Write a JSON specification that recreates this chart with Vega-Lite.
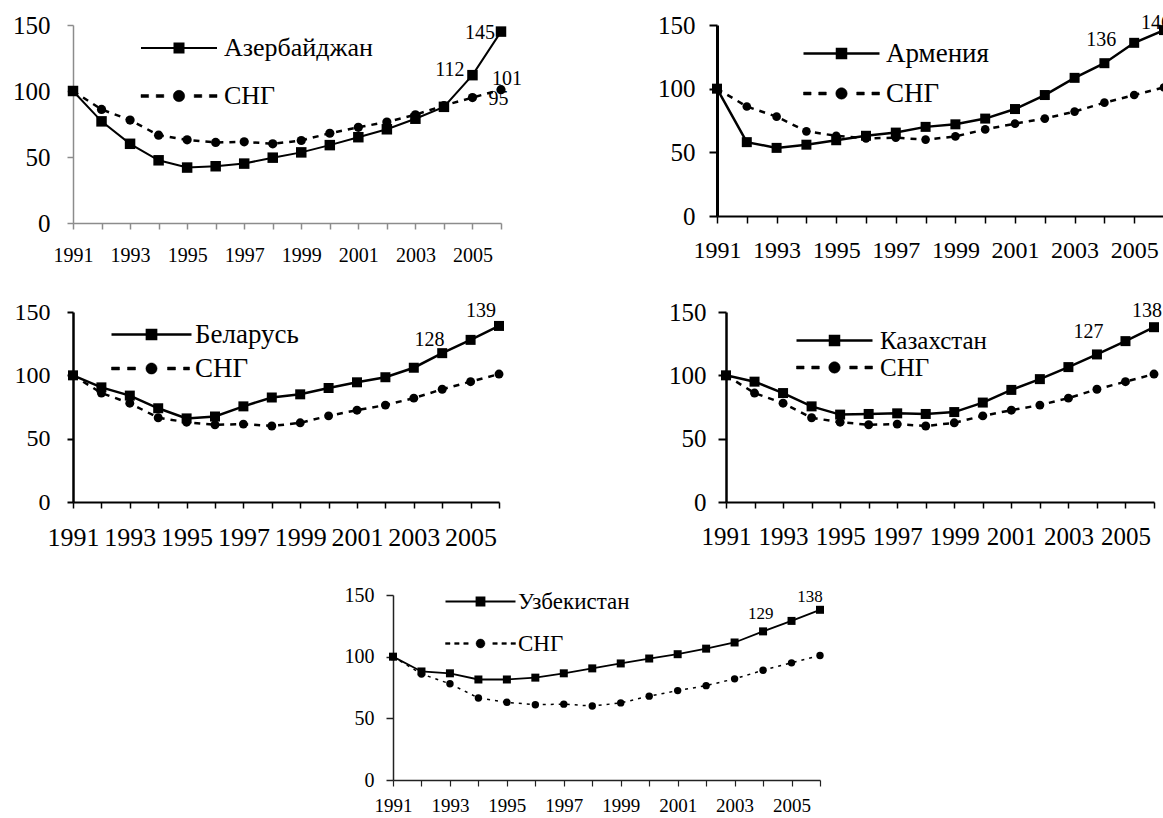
{
"$schema": "https://vega.github.io/schema/vega-lite/v6.json",
"background": "white",
"padding": {"left": 12, "top": 13, "right": 0, "bottom": 0},
"config": {"view": {"stroke": null}, "font": "Liberation Serif", "axis": {"labelFont": "Liberation Serif"}, "legend": {"labelFont": "Liberation Serif"}},
"datasets": {"d": [
{"series":"СНГ","year":1991,"value":100},{"series":"СНГ","year":1992,"value":86},{"series":"СНГ","year":1993,"value":78},{"series":"СНГ","year":1994,"value":66.5},{"series":"СНГ","year":1995,"value":63},{"series":"СНГ","year":1996,"value":61},{"series":"СНГ","year":1997,"value":61.5},{"series":"СНГ","year":1998,"value":60},{"series":"СНГ","year":1999,"value":62.5},{"series":"СНГ","year":2000,"value":68},{"series":"СНГ","year":2001,"value":72.5},{"series":"СНГ","year":2002,"value":76.5},{"series":"СНГ","year":2003,"value":82},{"series":"СНГ","year":2004,"value":89},{"series":"СНГ","year":2005,"value":95},{"series":"СНГ","year":2006,"value":101},
{"series":"Азербайджан","year":1991,"value":100},{"series":"Азербайджан","year":1992,"value":77},{"series":"Азербайджан","year":1993,"value":60},{"series":"Азербайджан","year":1994,"value":47.5},{"series":"Азербайджан","year":1995,"value":42},{"series":"Азербайджан","year":1996,"value":43},{"series":"Азербайджан","year":1997,"value":45},{"series":"Азербайджан","year":1998,"value":49.5},{"series":"Азербайджан","year":1999,"value":53.5},{"series":"Азербайджан","year":2000,"value":59},{"series":"Азербайджан","year":2001,"value":65},{"series":"Азербайджан","year":2002,"value":71},{"series":"Азербайджан","year":2003,"value":79},{"series":"Азербайджан","year":2004,"value":88},{"series":"Азербайджан","year":2005,"value":112},{"series":"Азербайджан","year":2006,"value":145},
{"series":"Армения","year":1991,"value":100},{"series":"Армения","year":1992,"value":58},{"series":"Армения","year":1993,"value":53.5},{"series":"Армения","year":1994,"value":56},{"series":"Армения","year":1995,"value":59.5},{"series":"Армения","year":1996,"value":63},{"series":"Армения","year":1997,"value":65.5},{"series":"Армения","year":1998,"value":70},{"series":"Армения","year":1999,"value":72},{"series":"Армения","year":2000,"value":76.5},{"series":"Армения","year":2001,"value":84},{"series":"Армения","year":2002,"value":95},{"series":"Армения","year":2003,"value":108.5},{"series":"Армения","year":2004,"value":120},{"series":"Армения","year":2005,"value":136},{"series":"Армения","year":2006,"value":146},
{"series":"Беларусь","year":1991,"value":100},{"series":"Беларусь","year":1992,"value":90.5},{"series":"Беларусь","year":1993,"value":84},{"series":"Беларусь","year":1994,"value":74},{"series":"Беларусь","year":1995,"value":66},{"series":"Беларусь","year":1996,"value":67.5},{"series":"Беларусь","year":1997,"value":75.5},{"series":"Беларусь","year":1998,"value":82.5},{"series":"Беларусь","year":1999,"value":85},{"series":"Беларусь","year":2000,"value":90},{"series":"Беларусь","year":2001,"value":94.5},{"series":"Беларусь","year":2002,"value":98.5},{"series":"Беларусь","year":2003,"value":106},{"series":"Беларусь","year":2004,"value":117.5},{"series":"Беларусь","year":2005,"value":128},{"series":"Беларусь","year":2006,"value":139},
{"series":"Казахстан","year":1991,"value":100},{"series":"Казахстан","year":1992,"value":95},{"series":"Казахстан","year":1993,"value":86},{"series":"Казахстан","year":1994,"value":75.5},{"series":"Казахстан","year":1995,"value":69},{"series":"Казахстан","year":1996,"value":69.5},{"series":"Казахстан","year":1997,"value":70},{"series":"Казахстан","year":1998,"value":69.5},{"series":"Казахстан","year":1999,"value":71},{"series":"Казахстан","year":2000,"value":78.5},{"series":"Казахстан","year":2001,"value":88.5},{"series":"Казахстан","year":2002,"value":97},{"series":"Казахстан","year":2003,"value":106.5},{"series":"Казахстан","year":2004,"value":116.5},{"series":"Казахстан","year":2005,"value":127},{"series":"Казахстан","year":2006,"value":138},
{"series":"Узбекистан","year":1991,"value":100},{"series":"Узбекистан","year":1992,"value":88},{"series":"Узбекистан","year":1993,"value":86.5},{"series":"Узбекистан","year":1994,"value":81.5},{"series":"Узбекистан","year":1995,"value":81.5},{"series":"Узбекистан","year":1996,"value":83},{"series":"Узбекистан","year":1997,"value":86.5},{"series":"Узбекистан","year":1998,"value":90.5},{"series":"Узбекистан","year":1999,"value":94.5},{"series":"Узбекистан","year":2000,"value":98.5},{"series":"Узбекистан","year":2001,"value":102},{"series":"Узбекистан","year":2002,"value":106.5},{"series":"Узбекистан","year":2003,"value":111.5},{"series":"Узбекистан","year":2004,"value":120.5},{"series":"Узбекистан","year":2005,"value":129},{"series":"Узбекистан","year":2006,"value":138}
]},
"data": {"name": "d"},
"spacing": 35,
"resolve": {"scale": {"fill": "independent", "stroke": "independent"}, "legend": {"fill": "independent", "stroke": "independent"}},
"vconcat": [
{"hconcat": [
{
"width": 428, "height": 198,
"transform": [{"filter": "datum.series == 'Азербайджан' || datum.series == 'СНГ'"}],
"encoding": {
"x": {"field": "year", "type": "quantitative", "scale": {"domain": [1991, 2006], "nice": false, "zero": false},
 "axis": {"values": [1991,1992,1993,1994,1995,1996,1997,1998,1999,2000,2001,2002,2003,2004,2005,2006], "format": "d", "labelExpr": "datum.value % 2 == 1 ? datum.label : ''", "labelFontSize": 20, "labelPadding": 16, "tickSize": 6, "labelColor": "black", "domainColor": "#8c8c8c", "tickColor": "#8c8c8c", "domainWidth": 1.5, "tickWidth": 1.5, "title": null, "grid": false, "labelOverlap": false, "labelFlush": false, "labelAngle": 0}},
"y": {"field": "value", "type": "quantitative", "scale": {"domain": [0, 150], "nice": false},
 "axis": {"values": [0, 50, 100, 150], "labelFontSize": 25, "labelPadding": 17, "tickSize": 6, "labelColor": "black", "domainColor": "#8c8c8c", "tickColor": "#8c8c8c", "domainWidth": 1.5, "tickWidth": 1.5, "title": null, "grid": false}}
},
"layer": [
{"transform": [{"filter": "datum.series == 'СНГ'"}], "mark": {"type": "line", "color": "black", "strokeWidth": 2.5, "strokeDash": [6, 6]}, "encoding": {}},
{"transform": [{"filter": "datum.series == 'Азербайджан'"}], "mark": {"type": "line", "color": "black", "strokeWidth": 2}, "encoding": {}},
{"transform": [{"filter": "datum.series == 'СНГ'"}], "mark": {"type": "point", "shape": "circle", "filled": true, "color": "black", "opacity": 1, "size": 85}, "encoding": {}},
{"transform": [{"filter": "datum.series == 'Азербайджан'"}], "mark": {"type": "point", "shape": "square", "filled": true, "color": "black", "opacity": 1, "size": 110}, "encoding": {}},
{"transform": [{"filter": "datum.series == 'Азербайджан' && datum.year == 2006"}], "mark": {"type": "text", "align": "right", "dx": -6, "dy": 1, "fontSize": 20, "color": "black"}, "encoding": {"text": {"field": "value", "type": "quantitative", "format": ".0f"}}},
{"transform": [{"filter": "datum.series == 'Азербайджан' && datum.year == 2005"}], "mark": {"type": "text", "align": "right", "dx": -8, "dy": -5, "fontSize": 20, "color": "black"}, "encoding": {"text": {"field": "value", "type": "quantitative", "format": ".0f"}}},
{"transform": [{"filter": "datum.series == 'СНГ' && datum.year == 2006"}], "mark": {"type": "text", "align": "center", "dx": 6, "dy": -11, "fontSize": 20, "color": "black"}, "encoding": {"text": {"field": "value", "type": "quantitative", "format": ".0f"}}},
{"transform": [{"filter": "datum.series == 'СНГ' && datum.year == 2005"}], "mark": {"type": "text", "align": "left", "dx": 16, "dy": 1, "fontSize": 20, "color": "black"}, "encoding": {"text": {"field": "value", "type": "quantitative", "format": ".0f"}}},
{"transform": [{"filter": "false"}], "mark": {"type": "point", "filled": true, "color": "black", "opacity": 1},
 "encoding": {"fill": {"field": "series", "type": "nominal", "scale": {"domain": ["Азербайджан"], "range": ["black"]},
 "legend": {"title": null, "orient": "none", "legendX": 93, "legendY": 10, "padding": 0, "symbolType": "M-3.8,0L3.8,0M-0.45,-0.45L0.45,-0.45L0.45,0.45L-0.45,0.45Z", "symbolSize": 400, "symbolStrokeColor": "black", "symbolStrokeWidth": 2, "symbolFillColor": "black", "symbolOpacity": 1, "labelFontSize": 26, "labelColor": "black", "labelOffset": 32, "labelLimit": 0}}}},
{"transform": [{"filter": "false"}], "mark": {"type": "point", "filled": true, "color": "black", "opacity": 1},
 "encoding": {"stroke": {"field": "series", "type": "nominal", "scale": {"domain": ["СНГ"], "range": ["black"]},
 "legend": {"title": null, "orient": "none", "legendX": 93, "legendY": 58, "padding": 0, "symbolType": "M-3.8,-0.15L-3.04,-0.15L-3.04,0.15L-3.8,0.15Z M-2.28,-0.15L-1.52,-0.15L-1.52,0.15L-2.28,0.15Z M1.52,-0.15L2.28,-0.15L2.28,0.15L1.52,0.15Z M3.04,-0.15L3.8,-0.15L3.8,0.15L3.04,0.15Z M-0.57,0A0.57,0.57,0,1,1,0.57,0A0.57,0.57,0,1,1,-0.57,0Z", "symbolSize": 400, "symbolFillColor": "black", "symbolStrokeWidth": 0.5, "symbolOpacity": 1, "labelFontSize": 26, "labelColor": "black", "labelOffset": 32, "labelLimit": 0}}}}
]
},
{
"width": 447, "height": 191,
"transform": [{"filter": "datum.series == 'Армения' || datum.series == 'СНГ'"}],
"encoding": {
"x": {"field": "year", "type": "quantitative", "scale": {"domain": [1991, 2006], "nice": false, "zero": false},
 "axis": {"values": [1991,1992,1993,1994,1995,1996,1997,1998,1999,2000,2001,2002,2003,2004,2005,2006], "format": "d", "labelExpr": "datum.value % 2 == 1 ? datum.label : ''", "labelFontSize": 24, "labelPadding": 15, "tickSize": 7, "labelColor": "black", "domainColor": "black", "tickColor": "black", "domainWidth": 2, "tickWidth": 1.5, "title": null, "grid": false, "labelOverlap": false, "labelFlush": false, "labelAngle": 0}},
"y": {"field": "value", "type": "quantitative", "scale": {"domain": [0, 150], "nice": false},
 "axis": {"values": [0, 50, 100, 150], "labelFontSize": 25, "labelPadding": 14, "tickSize": 8, "labelColor": "black", "domainColor": "black", "tickColor": "black", "domainWidth": 3, "tickWidth": 2, "title": null, "grid": false}}
},
"layer": [
{"transform": [{"filter": "datum.series == 'СНГ'"}], "mark": {"type": "line", "color": "black", "strokeWidth": 2.5, "strokeDash": [6, 6]}, "encoding": {}},
{"transform": [{"filter": "datum.series == 'Армения'"}], "mark": {"type": "line", "color": "black", "strokeWidth": 2.5}, "encoding": {}},
{"transform": [{"filter": "datum.series == 'СНГ'"}], "mark": {"type": "point", "shape": "circle", "filled": true, "color": "black", "opacity": 1, "size": 75}, "encoding": {}},
{"transform": [{"filter": "datum.series == 'Армения'"}], "mark": {"type": "point", "shape": "square", "filled": true, "color": "black", "opacity": 1, "size": 100}, "encoding": {}},
{"transform": [{"filter": "datum.series == 'Армения' && datum.year == 2005"}], "mark": {"type": "text", "align": "right", "dx": -18, "dy": -3, "fontSize": 20, "color": "black"}, "encoding": {"text": {"field": "value", "type": "quantitative", "format": ".0f"}}},
{"transform": [{"filter": "datum.series == 'Армения' && datum.year == 2006"}], "mark": {"type": "text", "align": "center", "dx": -8, "dy": -7, "fontSize": 20, "color": "black"}, "encoding": {"text": {"field": "value", "type": "quantitative", "format": ".0f"}}},
{"transform": [{"filter": "false"}], "mark": {"type": "point", "filled": true, "color": "black", "opacity": 1},
 "encoding": {"fill": {"field": "series", "type": "nominal", "scale": {"domain": ["Армения"], "range": ["black"]},
 "legend": {"title": null, "orient": "none", "legendX": 111, "legendY": 15, "padding": 0, "symbolType": "M-3.8,0L3.8,0M-0.45,-0.45L0.45,-0.45L0.45,0.45L-0.45,0.45Z", "symbolSize": 400, "symbolStrokeColor": "black", "symbolStrokeWidth": 2.5, "symbolFillColor": "black", "symbolOpacity": 1, "labelFontSize": 27, "labelColor": "black", "labelOffset": 31, "labelLimit": 0}}}},
{"transform": [{"filter": "false"}], "mark": {"type": "point", "filled": true, "color": "black", "opacity": 1},
 "encoding": {"stroke": {"field": "series", "type": "nominal", "scale": {"domain": ["СНГ"], "range": ["black"]},
 "legend": {"title": null, "orient": "none", "legendX": 111, "legendY": 55, "padding": 0, "symbolType": "M-3.8,-0.15L-3.04,-0.15L-3.04,0.15L-3.8,0.15Z M-2.28,-0.15L-1.52,-0.15L-1.52,0.15L-2.28,0.15Z M1.52,-0.15L2.28,-0.15L2.28,0.15L1.52,0.15Z M3.04,-0.15L3.8,-0.15L3.8,0.15L3.04,0.15Z M-0.57,0A0.57,0.57,0,1,1,0.57,0A0.57,0.57,0,1,1,-0.57,0Z", "symbolSize": 400, "symbolFillColor": "black", "symbolStrokeWidth": 0.5, "symbolOpacity": 1, "labelFontSize": 27, "labelColor": "black", "labelOffset": 31, "labelLimit": 0}}}}
]
}
], "spacing": 216, "bounds": "flush",
"resolve": {"scale": {"fill": "independent", "stroke": "independent"}, "legend": {"fill": "independent", "stroke": "independent"}}},
{"hconcat": [
{
"width": 426, "height": 190,
"transform": [{"filter": "datum.series == 'Беларусь' || datum.series == 'СНГ'"}],
"encoding": {
"x": {"field": "year", "type": "quantitative", "scale": {"domain": [1991, 2006], "nice": false, "zero": false},
 "axis": {"values": [1991,1992,1993,1994,1995,1996,1997,1998,1999,2000,2001,2002,2003,2004,2005,2006], "format": "d", "labelExpr": "datum.value % 2 == 1 ? datum.label : ''", "labelFontSize": 26, "labelPadding": 16, "tickSize": 6, "labelColor": "black", "domainColor": "black", "tickColor": "black", "domainWidth": 2, "tickWidth": 1.5, "title": null, "grid": false, "labelOverlap": false, "labelFlush": false, "labelAngle": 0}},
"y": {"field": "value", "type": "quantitative", "scale": {"domain": [0, 150], "nice": false},
 "axis": {"values": [0, 50, 100, 150], "labelFontSize": 24, "labelPadding": 17, "tickSize": 6, "labelColor": "black", "domainColor": "black", "tickColor": "black", "domainWidth": 2.5, "tickWidth": 2, "title": null, "grid": false}}
},
"layer": [
{"transform": [{"filter": "datum.series == 'СНГ'"}], "mark": {"type": "line", "color": "black", "strokeWidth": 2.5, "strokeDash": [6, 6]}, "encoding": {}},
{"transform": [{"filter": "datum.series == 'Беларусь'"}], "mark": {"type": "line", "color": "black", "strokeWidth": 2.5}, "encoding": {}},
{"transform": [{"filter": "datum.series == 'СНГ'"}], "mark": {"type": "point", "shape": "circle", "filled": true, "color": "black", "opacity": 1, "size": 80}, "encoding": {}},
{"transform": [{"filter": "datum.series == 'Беларусь'"}], "mark": {"type": "point", "shape": "square", "filled": true, "color": "black", "opacity": 1, "size": 100}, "encoding": {}},
{"transform": [{"filter": "datum.series == 'Беларусь' && datum.year == 2005"}], "mark": {"type": "text", "align": "right", "dx": -26, "dy": 0, "fontSize": 20, "color": "black"}, "encoding": {"text": {"field": "value", "type": "quantitative", "format": ".0f"}}},
{"transform": [{"filter": "datum.series == 'Беларусь' && datum.year == 2006"}], "mark": {"type": "text", "align": "center", "dx": -18, "dy": -15, "fontSize": 20, "color": "black"}, "encoding": {"text": {"field": "value", "type": "quantitative", "format": ".0f"}}},
{"transform": [{"filter": "false"}], "mark": {"type": "point", "filled": true, "color": "black", "opacity": 1},
 "encoding": {"fill": {"field": "series", "type": "nominal", "scale": {"domain": ["Беларусь"], "range": ["black"]},
 "legend": {"title": null, "orient": "none", "legendX": 65, "legendY": 9, "padding": 0, "symbolType": "M-4,0L4,0M-0.46,-0.46L0.46,-0.46L0.46,0.46L-0.46,0.46Z", "symbolSize": 400, "symbolStrokeColor": "black", "symbolStrokeWidth": 2.5, "symbolFillColor": "black", "symbolOpacity": 1, "labelFontSize": 27, "labelColor": "black", "labelOffset": 30, "labelLimit": 0}}}},
{"transform": [{"filter": "false"}], "mark": {"type": "point", "filled": true, "color": "black", "opacity": 1},
 "encoding": {"stroke": {"field": "series", "type": "nominal", "scale": {"domain": ["СНГ"], "range": ["black"]},
 "legend": {"title": null, "orient": "none", "legendX": 65, "legendY": 43, "padding": 0, "symbolType": "M-4,-0.15L-3.2,-0.15L-3.2,0.15L-4,0.15Z M-2.4,-0.15L-1.6,-0.15L-1.6,0.15L-2.4,0.15Z M1.6,-0.15L2.4,-0.15L2.4,0.15L1.6,0.15Z M3.2,-0.15L3.8,-0.15L3.8,0.15L3.2,0.15Z M-0.56,0A0.56,0.56,0,1,1,0.56,0A0.56,0.56,0,1,1,-0.56,0Z", "symbolSize": 400, "symbolFillColor": "black", "symbolStrokeWidth": 0.5, "symbolOpacity": 1, "labelFontSize": 27, "labelColor": "black", "labelOffset": 30, "labelLimit": 0}}}}
]
},
{
"width": 428, "height": 190,
"transform": [{"filter": "datum.series == 'Казахстан' || datum.series == 'СНГ'"}],
"encoding": {
"x": {"field": "year", "type": "quantitative", "scale": {"domain": [1991, 2006], "nice": false, "zero": false},
 "axis": {"values": [1991,1992,1993,1994,1995,1996,1997,1998,1999,2000,2001,2002,2003,2004,2005,2006], "format": "d", "labelExpr": "datum.value % 2 == 1 ? datum.label : ''", "labelFontSize": 25, "labelPadding": 16, "tickSize": 6, "labelColor": "black", "domainColor": "black", "tickColor": "black", "domainWidth": 2, "tickWidth": 1.5, "title": null, "grid": false, "labelOverlap": false, "labelFlush": false, "labelAngle": 0}},
"y": {"field": "value", "type": "quantitative", "scale": {"domain": [0, 150], "nice": false},
 "axis": {"values": [0, 50, 100, 150], "labelFontSize": 25, "labelPadding": 12, "tickSize": 8, "labelColor": "black", "domainColor": "black", "tickColor": "black", "domainWidth": 2.5, "tickWidth": 2, "title": null, "grid": false}}
},
"layer": [
{"transform": [{"filter": "datum.series == 'СНГ'"}], "mark": {"type": "line", "color": "black", "strokeWidth": 2.5, "strokeDash": [6, 6]}, "encoding": {}},
{"transform": [{"filter": "datum.series == 'Казахстан'"}], "mark": {"type": "line", "color": "black", "strokeWidth": 2.5}, "encoding": {}},
{"transform": [{"filter": "datum.series == 'СНГ'"}], "mark": {"type": "point", "shape": "circle", "filled": true, "color": "black", "opacity": 1, "size": 80}, "encoding": {}},
{"transform": [{"filter": "datum.series == 'Казахстан'"}], "mark": {"type": "point", "shape": "square", "filled": true, "color": "black", "opacity": 1, "size": 100}, "encoding": {}},
{"transform": [{"filter": "datum.series == 'Казахстан' && datum.year == 2005"}], "mark": {"type": "text", "align": "right", "dx": -22, "dy": -9, "fontSize": 20, "color": "black"}, "encoding": {"text": {"field": "value", "type": "quantitative", "format": ".0f"}}},
{"transform": [{"filter": "datum.series == 'Казахстан' && datum.year == 2006"}], "mark": {"type": "text", "align": "center", "dx": -7, "dy": -16, "fontSize": 20, "color": "black"}, "encoding": {"text": {"field": "value", "type": "quantitative", "format": ".0f"}}},
{"transform": [{"filter": "false"}], "mark": {"type": "point", "filled": true, "color": "black", "opacity": 1},
 "encoding": {"fill": {"field": "series", "type": "nominal", "scale": {"domain": ["Казахстан"], "range": ["black"]},
 "legend": {"title": null, "orient": "none", "legendX": 96, "legendY": 16, "padding": 0, "symbolType": "M-3.8,0L3.8,0M-0.45,-0.45L0.45,-0.45L0.45,0.45L-0.45,0.45Z", "symbolSize": 400, "symbolStrokeColor": "black", "symbolStrokeWidth": 2.5, "symbolFillColor": "black", "symbolOpacity": 1, "labelFontSize": 25, "labelColor": "black", "labelOffset": 33, "labelLimit": 0}}}},
{"transform": [{"filter": "false"}], "mark": {"type": "point", "filled": true, "color": "black", "opacity": 1},
 "encoding": {"stroke": {"field": "series", "type": "nominal", "scale": {"domain": ["СНГ"], "range": ["black"]},
 "legend": {"title": null, "orient": "none", "legendX": 96, "legendY": 43, "padding": 0, "symbolType": "M-3.8,-0.15L-3.04,-0.15L-3.04,0.15L-3.8,0.15Z M-2.28,-0.15L-1.52,-0.15L-1.52,0.15L-2.28,0.15Z M1.52,-0.15L2.28,-0.15L2.28,0.15L1.52,0.15Z M3.04,-0.15L3.8,-0.15L3.8,0.15L3.04,0.15Z M-0.57,0A0.57,0.57,0,1,1,0.57,0A0.57,0.57,0,1,1,-0.57,0Z", "symbolSize": 400, "symbolFillColor": "black", "symbolStrokeWidth": 0.5, "symbolOpacity": 1, "labelFontSize": 25, "labelColor": "black", "labelOffset": 33, "labelLimit": 0}}}}
]
}
], "spacing": 227, "bounds": "flush",
"resolve": {"scale": {"fill": "independent", "stroke": "independent"}, "legend": {"fill": "independent", "stroke": "independent"}}},
{"hconcat": [
{"width": 320, "height": 185, "transform": [{"filter": "false"}], "mark": {"type": "point", "opacity": 0}, "encoding": {}},
{
"width": 427, "height": 185,
"transform": [{"filter": "datum.series == 'Узбекистан' || datum.series == 'СНГ'"}],
"encoding": {
"x": {"field": "year", "type": "quantitative", "scale": {"domain": [1991, 2006], "nice": false, "zero": false},
 "axis": {"values": [1991,1992,1993,1994,1995,1996,1997,1998,1999,2000,2001,2002,2003,2004,2005,2006], "format": "d", "labelExpr": "datum.value % 2 == 1 ? datum.label : ''", "labelFontSize": 19, "labelPadding": 10, "tickSize": 6, "labelColor": "black", "domainColor": "#222222", "tickColor": "#222222", "domainWidth": 1.5, "tickWidth": 1.2, "title": null, "grid": false, "labelOverlap": false, "labelFlush": false, "labelAngle": 0}},
"y": {"field": "value", "type": "quantitative", "scale": {"domain": [0, 150], "nice": false},
 "axis": {"values": [0, 50, 100, 150], "labelFontSize": 20, "labelPadding": 12, "tickSize": 7, "labelColor": "black", "domainColor": "#222222", "tickColor": "#222222", "domainWidth": 1.5, "tickWidth": 1.5, "title": null, "grid": false}}
},
"layer": [
{"transform": [{"filter": "datum.series == 'СНГ'"}], "mark": {"type": "line", "color": "black", "strokeWidth": 1.5, "strokeDash": [3, 5]}, "encoding": {}},
{"transform": [{"filter": "datum.series == 'Узбекистан'"}], "mark": {"type": "line", "color": "black", "strokeWidth": 1.8}, "encoding": {}},
{"transform": [{"filter": "datum.series == 'СНГ'"}], "mark": {"type": "point", "shape": "circle", "filled": true, "color": "black", "opacity": 1, "size": 55}, "encoding": {}},
{"transform": [{"filter": "datum.series == 'Узбекистан'"}], "mark": {"type": "point", "shape": "square", "filled": true, "color": "black", "opacity": 1, "size": 64}, "encoding": {}},
{"transform": [{"filter": "datum.series == 'Узбекистан' && datum.year == 2005"}], "mark": {"type": "text", "align": "right", "dx": -18, "dy": -7, "fontSize": 17, "color": "black"}, "encoding": {"text": {"field": "value", "type": "quantitative", "format": ".0f"}}},
{"transform": [{"filter": "datum.series == 'Узбекистан' && datum.year == 2006"}], "mark": {"type": "text", "align": "center", "dx": -10, "dy": -13, "fontSize": 17, "color": "black"}, "encoding": {"text": {"field": "value", "type": "quantitative", "format": ".0f"}}},
{"transform": [{"filter": "false"}], "mark": {"type": "point", "filled": true, "color": "black", "opacity": 1},
 "encoding": {"fill": {"field": "series", "type": "nominal", "scale": {"domain": ["Узбекистан"], "range": ["black"]},
 "legend": {"title": null, "orient": "none", "legendX": 76, "legendY": -5, "padding": 0, "symbolType": "M-3.5,0L3.5,0M-0.39,-0.39L0.39,-0.39L0.39,0.39L-0.39,0.39Z", "symbolSize": 400, "symbolStrokeColor": "black", "symbolStrokeWidth": 2, "symbolFillColor": "black", "symbolOpacity": 1, "labelFontSize": 23, "labelColor": "black", "labelOffset": 26, "labelLimit": 0}}}},
{"transform": [{"filter": "false"}], "mark": {"type": "point", "filled": true, "color": "black", "opacity": 1},
 "encoding": {"stroke": {"field": "series", "type": "nominal", "scale": {"domain": ["СНГ"], "range": ["black"]},
 "legend": {"title": null, "orient": "none", "legendX": 76, "legendY": 37, "padding": 0, "symbolType": "M-3.5,-0.09L-3.045,-0.09L-3.045,0.09L-3.5,0.09Z M-2.59,-0.09L-2.135,-0.09L-2.135,0.09L-2.59,0.09Z M-1.68,-0.09L-1.225,-0.09L-1.225,0.09L-1.68,0.09Z M1.225,-0.09L1.68,-0.09L1.68,0.09L1.225,0.09Z M2.135,-0.09L2.59,-0.09L2.59,0.09L2.135,0.09Z M3.045,-0.09L3.5,-0.09L3.5,0.09L3.045,0.09Z M-0.45,0A0.45,0.45,0,1,1,0.45,0A0.45,0.45,0,1,1,-0.45,0Z", "symbolSize": 400, "symbolFillColor": "black", "symbolStrokeWidth": 0.4, "symbolOpacity": 1, "labelFontSize": 23, "labelColor": "black", "labelOffset": 26, "labelLimit": 0}}}}
]
}
], "spacing": 0, "bounds": "flush",
"resolve": {"scale": {"fill": "independent", "stroke": "independent"}, "legend": {"fill": "independent", "stroke": "independent"}}}
]
}
